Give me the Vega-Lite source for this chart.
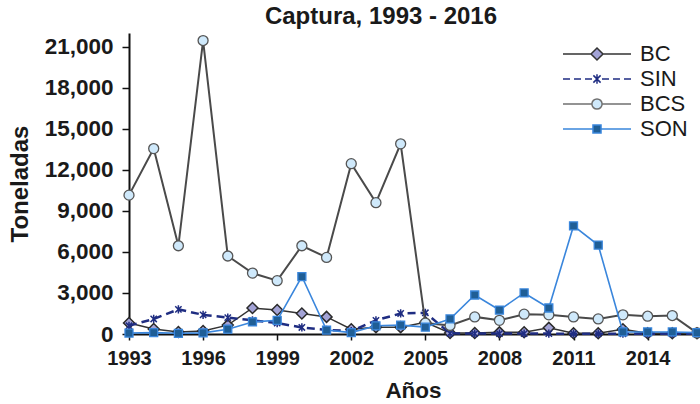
{
  "$schema": "https://vega.github.io/schema/vega-lite/v6.json",
  "autosize": {"type": "none"},
  "width": 568,
  "height": 301,
  "padding": {"left": 129, "top": 33, "right": 3, "bottom": 70},
  "background": "white",
  "title": {"text": "Captura, 1993 - 2016", "fontSize": 24, "fontWeight": "bold", "font": "Liberation Sans", "color": "#1a1a1a", "anchor": "middle", "dx": -32, "offset": 4},
  "data": {"values": [
    {"year": 1993, "series": "BC", "value": 800}, {"year": 1994, "series": "BC", "value": 370}, {"year": 1995, "series": "BC", "value": 150}, {"year": 1996, "series": "BC", "value": 220}, {"year": 1997, "series": "BC", "value": 650}, {"year": 1998, "series": "BC", "value": 1900}, {"year": 1999, "series": "BC", "value": 1750}, {"year": 2000, "series": "BC", "value": 1500}, {"year": 2001, "series": "BC", "value": 1250}, {"year": 2002, "series": "BC", "value": 350}, {"year": 2003, "series": "BC", "value": 500}, {"year": 2004, "series": "BC", "value": 500}, {"year": 2005, "series": "BC", "value": 850}, {"year": 2006, "series": "BC", "value": 70}, {"year": 2007, "series": "BC", "value": 70}, {"year": 2008, "series": "BC", "value": 120}, {"year": 2009, "series": "BC", "value": 130}, {"year": 2010, "series": "BC", "value": 450}, {"year": 2011, "series": "BC", "value": 50}, {"year": 2012, "series": "BC", "value": 50}, {"year": 2013, "series": "BC", "value": 350}, {"year": 2014, "series": "BC", "value": 50}, {"year": 2015, "series": "BC", "value": 50}, {"year": 2016, "series": "BC", "value": 50},
    {"year": 1993, "series": "SIN", "value": 600}, {"year": 1994, "series": "SIN", "value": 1100}, {"year": 1995, "series": "SIN", "value": 1800}, {"year": 1996, "series": "SIN", "value": 1400}, {"year": 1997, "series": "SIN", "value": 1200}, {"year": 1998, "series": "SIN", "value": 1000}, {"year": 1999, "series": "SIN", "value": 800}, {"year": 2000, "series": "SIN", "value": 480}, {"year": 2001, "series": "SIN", "value": 300}, {"year": 2002, "series": "SIN", "value": 220}, {"year": 2003, "series": "SIN", "value": 1000}, {"year": 2004, "series": "SIN", "value": 1500}, {"year": 2005, "series": "SIN", "value": 1550}, {"year": 2006, "series": "SIN", "value": 50}, {"year": 2007, "series": "SIN", "value": 30}, {"year": 2008, "series": "SIN", "value": 30}, {"year": 2009, "series": "SIN", "value": 30}, {"year": 2010, "series": "SIN", "value": 30}, {"year": 2011, "series": "SIN", "value": 20}, {"year": 2012, "series": "SIN", "value": 20}, {"year": 2013, "series": "SIN", "value": 20}, {"year": 2014, "series": "SIN", "value": 20}, {"year": 2015, "series": "SIN", "value": 20}, {"year": 2016, "series": "SIN", "value": 20},
    {"year": 1993, "series": "BCS", "value": 10150}, {"year": 1994, "series": "BCS", "value": 13550}, {"year": 1995, "series": "BCS", "value": 6450}, {"year": 1996, "series": "BCS", "value": 21450}, {"year": 1997, "series": "BCS", "value": 5700}, {"year": 1998, "series": "BCS", "value": 4450}, {"year": 1999, "series": "BCS", "value": 3900}, {"year": 2000, "series": "BCS", "value": 6450}, {"year": 2001, "series": "BCS", "value": 5600}, {"year": 2002, "series": "BCS", "value": 12450}, {"year": 2003, "series": "BCS", "value": 9600}, {"year": 2004, "series": "BCS", "value": 13900}, {"year": 2005, "series": "BCS", "value": 800}, {"year": 2006, "series": "BCS", "value": 620}, {"year": 2007, "series": "BCS", "value": 1250}, {"year": 2008, "series": "BCS", "value": 1000}, {"year": 2009, "series": "BCS", "value": 1450}, {"year": 2010, "series": "BCS", "value": 1400}, {"year": 2011, "series": "BCS", "value": 1250}, {"year": 2012, "series": "BCS", "value": 1100}, {"year": 2013, "series": "BCS", "value": 1400}, {"year": 2014, "series": "BCS", "value": 1300}, {"year": 2015, "series": "BCS", "value": 1350}, {"year": 2016, "series": "BCS", "value": 80},
    {"year": 1993, "series": "SON", "value": 70}, {"year": 1994, "series": "SON", "value": 100}, {"year": 1995, "series": "SON", "value": 50}, {"year": 1996, "series": "SON", "value": 80}, {"year": 1997, "series": "SON", "value": 350}, {"year": 1998, "series": "SON", "value": 880}, {"year": 1999, "series": "SON", "value": 1000}, {"year": 2000, "series": "SON", "value": 4200}, {"year": 2001, "series": "SON", "value": 290}, {"year": 2002, "series": "SON", "value": 100}, {"year": 2003, "series": "SON", "value": 600}, {"year": 2004, "series": "SON", "value": 650}, {"year": 2005, "series": "SON", "value": 500}, {"year": 2006, "series": "SON", "value": 1100}, {"year": 2007, "series": "SON", "value": 2850}, {"year": 2008, "series": "SON", "value": 1750}, {"year": 2009, "series": "SON", "value": 3000}, {"year": 2010, "series": "SON", "value": 1900}, {"year": 2011, "series": "SON", "value": 7900}, {"year": 2012, "series": "SON", "value": 6500}, {"year": 2013, "series": "SON", "value": 150}, {"year": 2014, "series": "SON", "value": 150}, {"year": 2015, "series": "SON", "value": 150}, {"year": 2016, "series": "SON", "value": 100}
  ]},
  "encoding": {
    "x": {"field": "year", "type": "quantitative",
      "scale": {"domain": [1993, 2016], "nice": false, "zero": false},
      "axis": {"values": [1993, 1996, 1999, 2002, 2005, 2008, 2011, 2014], "format": "d", "title": "Años",
        "labelFlush": false, "labelFontSize": 20, "labelFontWeight": "bold", "labelPadding": 8, "tickSize": 6,
        "titleFontSize": 22.5, "titleFontWeight": "bold", "titlePadding": 11}},
    "y": {"field": "value", "type": "quantitative",
      "scale": {"domain": [0, 22000], "nice": false},
      "axis": {"values": [0, 3000, 6000, 9000, 12000, 15000, 18000, 21000], "format": ",d", "title": "Toneladas",
        "labelFlush": false, "labelFontSize": 22.5, "labelFontWeight": "bold", "labelPadding": 9, "tickSize": 7,
        "titleFontSize": 24, "titleFontWeight": "bold", "titlePadding": 12}}
  },
  "layer": [
    {
      "transform": [{"filter": "datum.series === 'BC'"}],
      "layer": [
        {"mark": {"type": "line", "stroke": "#333333", "strokeWidth": 1.5}},
        {"mark": {"type": "point", "shape": "diamond", "size": 120, "filled": false, "fill": "#a3a3d6", "fillOpacity": 1, "stroke": "#2a2a2a", "strokeWidth": 1.5, "opacity": 1}}
      ]
    },
    {
      "transform": [{"filter": "datum.series === 'SIN'"}],
      "layer": [
        {"mark": {"type": "line", "stroke": "#1f2d82", "strokeWidth": 2.5, "strokeDash": [8, 5]}},
        {"mark": {"type": "point", "shape": "M-1,-1L1,1M-1,1L1,-1M0,-1.3V1.3", "size": 40, "filled": false, "stroke": "#1f2d82", "strokeWidth": 1.5, "opacity": 1}}
      ]
    },
    {
      "transform": [{"filter": "datum.series === 'BCS'"}],
      "layer": [
        {"mark": {"type": "line", "stroke": "#4a4a4a", "strokeWidth": 2}},
        {"mark": {"type": "point", "shape": "circle", "size": 100, "filled": false, "fill": "#cfe9fb", "fillOpacity": 1, "stroke": "#555555", "strokeWidth": 1.3, "opacity": 1}}
      ]
    },
    {
      "transform": [{"filter": "datum.series === 'SON'"}],
      "layer": [
        {"mark": {"type": "line", "stroke": "#3a86dc", "strokeWidth": 1.6}},
        {"mark": {"type": "point", "shape": "square", "size": 64, "filled": false, "fill": "#1f5e96", "fillOpacity": 1, "stroke": "#3a86dc", "strokeWidth": 1.3, "opacity": 1}}
      ]
    },
    {
      "mark": {"type": "point", "opacity": 0, "filled": false},
      "encoding": {
        "stroke": {"field": "series", "type": "nominal",
          "scale": {"domain": ["BC", "SIN", "BCS", "SON"], "range": ["#333333", "#1f2d82", "#707070", "#3a86dc"]}},
        "fill": {"field": "series", "type": "nominal",
          "scale": {"domain": ["BC", "SIN", "BCS", "SON"], "range": ["#a3a3d6", "#1f2d82", "#cfe9fb", "#1f5e96"]}},
        "shape": {"field": "series", "type": "nominal",
          "scale": {"domain": ["BC", "SIN", "BCS", "SON"], "range": [
            "M-5.667,0H-1M1,0H5.667M0,-1L1,0L0,1L-1,0Z",
            "M-5.667,0H-4.5M-3.833,0H-2.667M-2,0H-0.833M0.833,0H2M2.667,0H3.833M4.5,0H5.667M-0.6,-0.6L0.6,0.6M-0.6,0.6L0.6,-0.6M0,-0.8V0.8",
            "M-5.667,0H-0.85M0.85,0H5.667M0.85,0A0.85,0.85,0,1,1,-0.85,0A0.85,0.85,0,1,1,0.85,0Z",
            "M-5.667,0H-0.67M0.67,0H5.667M-0.67,-0.67H0.67V0.67H-0.67Z"
          ]}}
      }
    }
  ],
  "config": {
    "font": "Liberation Sans",
    "view": {"stroke": null},
    "axis": {"domainColor": "#111111", "domainWidth": 2, "tickColor": "#111111", "tickWidth": 1.5, "labelColor": "#1a1a1a", "titleColor": "#1a1a1a", "grid": false, "labelFont": "Liberation Sans", "titleFont": "Liberation Sans"},
    "legend": {
      "title": null, "orient": "none", "legendX": 457, "legendY": 10, "padding": 0,
      "symbolSize": 144, "symbolStrokeWidth": 1.5, "symbolOpacity": 1,
      "labelFont": "Liberation Sans", "labelFontSize": 22, "labelColor": "#1a1a1a", "labelOffset": 32, "rowPadding": 3
    }
  }
}
